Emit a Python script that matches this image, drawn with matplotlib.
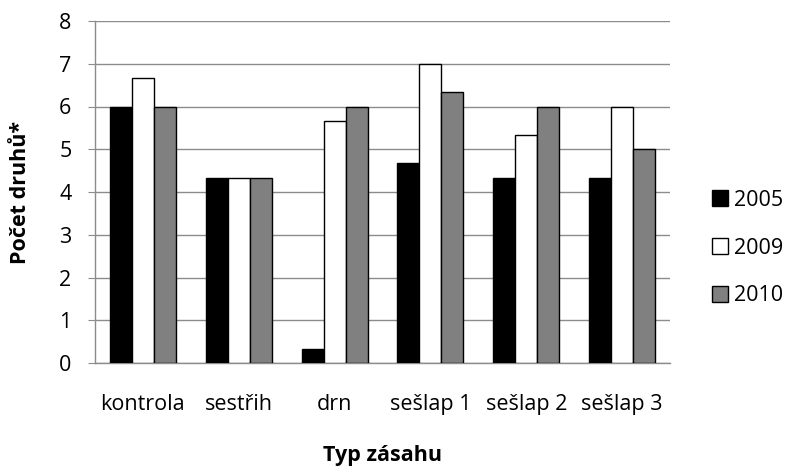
import numpy as np
import matplotlib
matplotlib.use("Agg")
import matplotlib.pyplot as plt

# Number of species per treatment and year
treatments = ["kontrola", "sestřih", "drn", "sešlap 1", "sešlap 2", "sešlap 3"]
years = ["2005", "2009", "2010"]
counts_2005 = [6.0, 4.33, 0.33, 4.67, 4.33, 4.33]
counts_2009 = [6.67, 4.33, 5.67, 7.0, 5.33, 6.0]
counts_2010 = [6.0, 4.33, 6.0, 6.33, 6.0, 5.0]

colors = ["#000000", "#ffffff", "#808080"]
series = [counts_2005, counts_2009, counts_2010]

plt.rcParams["font.family"] = ["Open Sans", "DejaVu Sans"]
fs = 15.5

fig = plt.figure(figsize=(7.9, 4.72), dpi=100)
ax = fig.add_axes([95 / 790, 1 - 363 / 472, 575 / 790, 342 / 472])

x = np.arange(len(treatments))
width = 0.23
for i, (vals, col) in enumerate(zip(series, colors)):
    ax.bar(x + (i - 1) * width, vals, width, color=col, edgecolor="black",
           linewidth=1.0, label=years[i], zorder=3)

ax.set_xlim(-0.5, len(treatments) - 0.5)
ax.set_ylim(0, 8)
ax.set_yticks(range(0, 9))
ax.set_xticks(x)
ax.set_xticklabels(treatments)
ax.grid(axis="y", color="#8c8c8c", linewidth=1.0, zorder=0)

for side in ["top", "right"]:
    ax.spines[side].set_visible(False)
for side in ["left", "bottom"]:
    ax.spines[side].set_color("#8c8c8c")
    ax.spines[side].set_linewidth(1.0)

ax.tick_params(axis="y", length=5, color="#8c8c8c", labelsize=fs, pad=12)
ax.tick_params(axis="x", length=0, labelsize=fs, pad=22)

ax.set_ylabel("Počet druhů*", fontsize=fs, fontweight="bold", labelpad=20)
ax.set_xlabel("Typ zásahu", fontsize=fs, fontweight="bold", labelpad=22)

ax.legend(loc="center left", bbox_to_anchor=(1.073, 0.336), frameon=False,
          fontsize=fs, handlelength=0.75, handleheight=0.75,
          handletextpad=0.25, labelspacing=1.25,
          borderpad=0, borderaxespad=0)

fig.savefig("out.png", dpi=100)
